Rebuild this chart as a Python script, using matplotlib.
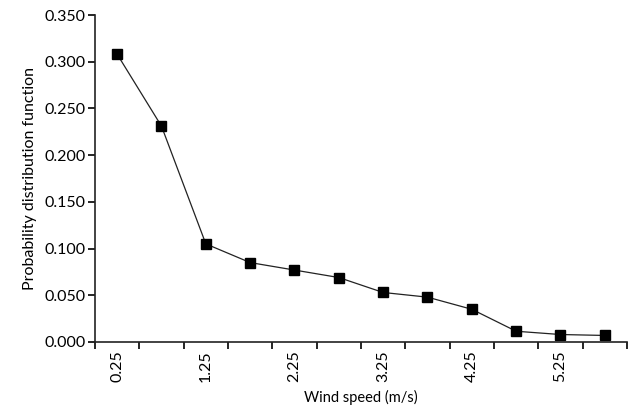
import numpy as np
import matplotlib
matplotlib.use("Agg")
import matplotlib.pyplot as plt

plt.rcParams['font.family'] = ['Lato', 'DejaVu Sans']

# wind speed bins (m/s) and probability density
speeds = ["0.25", "0.75", "1.25", "1.75", "2.25", "2.75",
          "3.25", "3.75", "4.25", "4.75", "5.25", "5.75"]
pdf = [0.308, 0.231, 0.105, 0.085, 0.077, 0.069,
       0.053, 0.048, 0.035, 0.0115, 0.008, 0.007]
shown_labels = ["0.25", "1.25", "2.25", "3.25", "4.25", "5.25"]

fig = plt.figure(figsize=(6.35, 4.11), dpi=100)
ax = fig.add_axes([0.1496, 0.1679, 0.8378, 0.7956])

x = np.arange(len(speeds)) + 0.5
ax.plot(x, pdf, color='#222222', lw=0.9, marker='s', ms=6.5,
        mfc='black', mec='black')

ax.set_xlim(0, len(speeds))
ax.set_ylim(0, 0.35)

# category boundaries as ticks, labels every other category
ax.set_xticks(np.arange(len(speeds) + 1))
ax.set_xticklabels([])
lab_pos = [x[speeds.index(s)] for s in shown_labels]
ax.set_xticks(lab_pos, minor=True)
ax.set_xticklabels(shown_labels, minor=True, rotation=90, fontsize=11.5)
ax.tick_params(axis='x', which='minor', length=0, pad=6)
ax.tick_params(axis='x', which='major', length=5, width=1.2, direction='out')

ax.set_yticks(np.arange(0, 0.351, 0.05))
ax.set_yticklabels([f"{v:.3f}" for v in np.arange(0, 0.351, 0.05)], fontsize=11.5)
ax.tick_params(axis='y', length=5, width=1.2, direction='out', pad=2)

for side in ['top', 'right']:
    ax.spines[side].set_visible(False)
for side in ['left', 'bottom']:
    ax.spines[side].set_linewidth(1.2)
    ax.spines[side].set_color('#222222')

ax.set_xlabel("Wind speed (m/s)", fontsize=10.5, labelpad=6)
ax.set_ylabel("Probability distribution function", fontsize=11.5, labelpad=5)

fig.savefig("out.png", dpi=100)
